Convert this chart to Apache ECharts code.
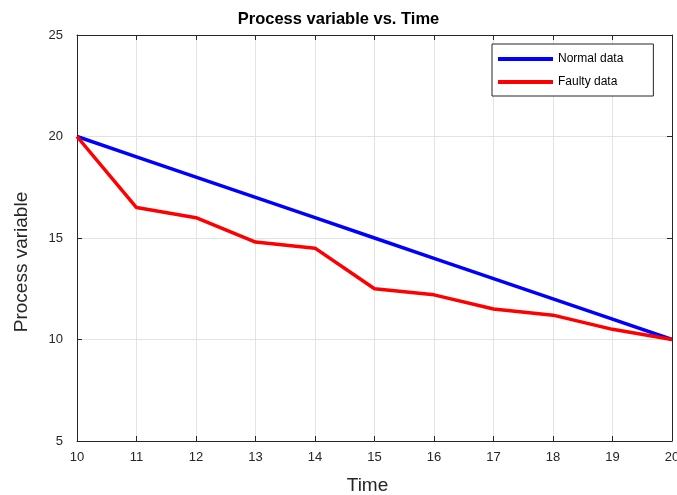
<!DOCTYPE html>
<html>
<head>
<meta charset="utf-8">
<script src="https://cdn.jsdelivr.net/npm/echarts@6/dist/echarts.min.js"></script>
<style>
  html, body { margin: 0; padding: 0; background: #fff; }
  #chart { width: 677px; height: 495px; }
</style>
</head>
<body>
<div id="chart"></div>
<script>
// Time steps and the two process-variable traces
const timeSteps = [10, 11, 12, 13, 14, 15, 16, 17, 18, 19, 20];
const normalData = [20, 19, 18, 17, 16, 15, 14, 13, 12, 11, 10];
const faultyData = [20, 16.5, 16.0, 14.8, 14.5, 12.5, 12.2, 11.5, 11.2, 10.5, 10];
const yTicks = [5, 10, 15, 20, 25];

const FONT = 'Liberation Sans, Arial, sans-serif';
const pairs = (xs, ys) => xs.map((x, i) => [x, ys[i]]);

const axisLine = { show: true, lineStyle: { color: '#262626', width: 1 } };
const tick = { show: true, inside: true, length: 5, lineStyle: { color: '#262626' } };
const grid = { show: true, lineStyle: { color: '#e3e3e3', width: 1 } };

const chart = echarts.init(document.getElementById('chart'));
chart.setOption({
  animation: false,
  backgroundColor: '#fff',
  title: {
    text: 'Process variable vs. Time',
    left: 'center',
    top: 6,
    padding: [5, 0, 5, 4],
    textStyle: { fontFamily: FONT, fontSize: 16.5, fontWeight: 'bold', color: '#000' }
  },
  grid: { left: 77, right: 5, top: 35, bottom: 54, outerBoundsMode: 'none', containLabel: false },
  legend: {
    orient: 'vertical',
    left: 492,
    top: 44,
    padding: [9, 30, 8, 6],
    itemGap: 11,
    itemWidth: 55,
    itemHeight: 4,
    icon: 'rect',
    backgroundColor: '#fff',
    borderColor: '#262626',
    borderWidth: 1,
    borderRadius: 0,
    textStyle: { fontFamily: FONT, fontSize: 12, color: '#000' },
    data: ['Normal data', 'Faulty data']
  },
  xAxis: [{
    type: 'value',
    min: 10, max: 20, interval: 1,
    name: 'Time',
    nameLocation: 'middle',
    nameGap: 35,
    nameTextStyle: { fontFamily: FONT, fontSize: 19, color: '#262626', padding: [0, 14, 0, 0] },
    axisLine, axisTick: tick, splitLine: grid,
    axisLabel: { fontFamily: FONT, fontSize: 13, color: '#262626', margin: 10 }
  }, {
    type: 'value', position: 'top',
    min: 10, max: 20, interval: 1,
    axisLine, axisTick: tick, splitLine: { show: false },
    axisLabel: { show: false }
  }],
  yAxis: [{
    type: 'value',
    min: 5, max: 25, interval: 5,
    name: 'Process variable',
    nameLocation: 'middle',
    nameGap: 46,
    nameTextStyle: { fontFamily: FONT, fontSize: 19, color: '#262626', padding: [0, 48, 0, 0] },
    axisLine, axisTick: tick, splitLine: grid,
    axisLabel: {
      fontFamily: FONT, fontSize: 13, color: '#262626', margin: 14,
      formatter: v => (yTicks.includes(v) ? String(v) : '')
    }
  }, {
    type: 'value', position: 'right',
    min: 5, max: 25, interval: 5,
    axisLine, axisTick: tick, splitLine: { show: false },
    axisLabel: { show: false }
  }],
  series: [{
    name: 'Normal data',
    type: 'line',
    data: pairs(timeSteps, normalData),
    showSymbol: false,
    color: '#0000ff',
    lineStyle: { width: 3.5, color: '#0000ff' },
    z: 3
  }, {
    name: 'Faulty data',
    type: 'line',
    data: pairs(timeSteps, faultyData),
    showSymbol: false,
    color: '#ff0000',
    lineStyle: { width: 3.5, color: '#ff0000' },
    z: 4
  }]
});
</script>
</body>
</html>
